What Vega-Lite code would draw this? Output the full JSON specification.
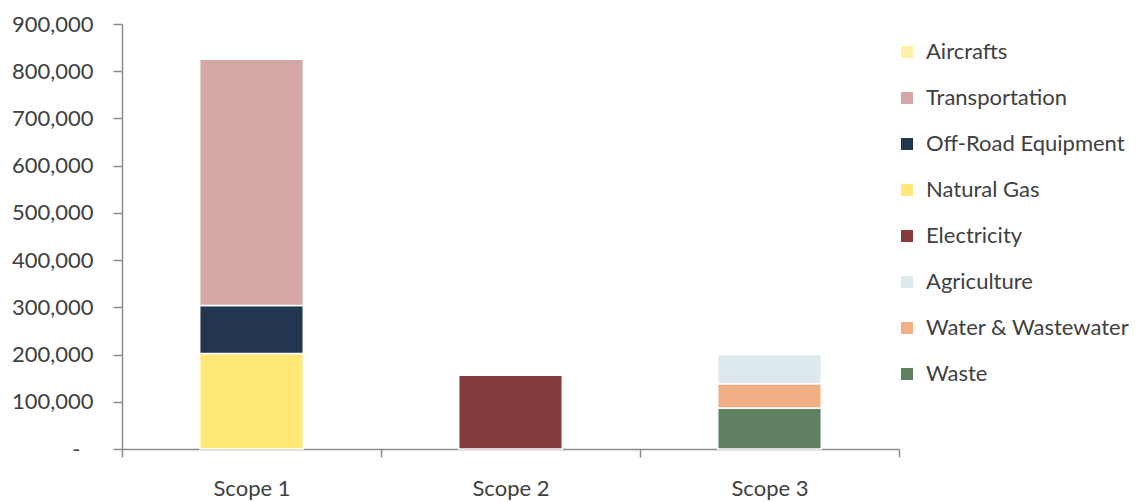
{
  "$schema": "https://vega.github.io/schema/vega-lite/v6.json",
  "width": 777,
  "height": 425,
  "autosize": "none",
  "padding": {"left": 122, "top": 24, "right": 237, "bottom": 53},
  "background": "white",
  "config": {
    "font": "Lato",
    "view": {"stroke": null},
    "axis": {
      "labelFont": "Lato",
      "labelColor": "#404040",
      "domainColor": "#8c8c8c",
      "tickColor": "#8c8c8c",
      "domainWidth": 1.5,
      "tickWidth": 1.5,
      "grid": false,
      "title": null
    }
  },
  "data": {
    "values": [
      {"scope": "Scope 1", "source": "Natural Gas", "layer": 1, "emissions": 202000},
      {"scope": "Scope 1", "source": "Off-Road Equipment", "layer": 2, "emissions": 102000},
      {"scope": "Scope 1", "source": "Transportation", "layer": 3, "emissions": 522000},
      {"scope": "Scope 1", "source": "Aircrafts", "layer": 4, "emissions": 800},
      {"scope": "Scope 2", "source": "Electricity", "layer": 1, "emissions": 156000},
      {"scope": "Scope 3", "source": "Waste", "layer": 1, "emissions": 87000},
      {"scope": "Scope 3", "source": "Water & Wastewater", "layer": 2, "emissions": 51000},
      {"scope": "Scope 3", "source": "Agriculture", "layer": 3, "emissions": 62000}
    ]
  },
  "mark": {"type": "bar", "stroke": "white", "strokeWidth": 1.5, "width": {"band": 0.4}},
  "encoding": {
    "x": {
      "field": "scope",
      "type": "nominal",
      "scale": {"paddingInner": 0, "paddingOuter": 0},
      "axis": {
        "labelAngle": 0,
        "labelFontSize": 22,
        "labelPadding": 21,
        "tickSize": 8,
        "tickBand": "extent"
      }
    },
    "y": {
      "field": "emissions",
      "type": "quantitative",
      "stack": "zero",
      "scale": {"domain": [0, 900000], "nice": false},
      "axis": {
        "values": [0, 100000, 200000, 300000, 400000, 500000, 600000, 700000, 800000, 900000],
        "labelExpr": "datum.value === 0 ? '-' : format(datum.value, ',')",
        "labelFontSize": 22,
        "labelPadding": {"condition": {"test": "datum.value === 0", "value": 33}, "value": 20},
        "tickSize": 9
      }
    },
    "order": {"field": "layer", "type": "quantitative", "sort": "ascending"},
    "color": {
      "field": "source",
      "type": "nominal",
      "scale": {
        "domain": ["Aircrafts", "Transportation", "Off-Road Equipment", "Natural Gas", "Electricity", "Agriculture", "Water & Wastewater", "Waste"],
        "range": ["#fff1a6", "#d5a7a7", "#22364f", "#ffe876", "#853b3b", "#dde9ec", "#f1af86", "#5f8162"]
      },
      "legend": {
        "title": null,
        "orient": "none",
        "legendX": 774,
        "legendY": 17,
        "symbolType": "square",
        "symbolSize": 144,
        "symbolStrokeWidth": 0,
        "labelFont": "Lato",
        "labelFontSize": 22,
        "labelColor": "#404040",
        "labelOffset": 8,
        "rowPadding": 24,
        "labelLimit": 400
      }
    }
  }
}
